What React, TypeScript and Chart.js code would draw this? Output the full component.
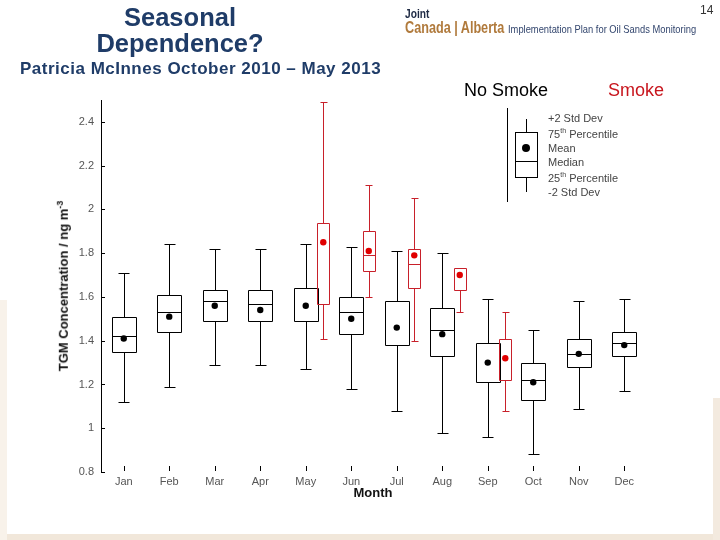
import { useEffect, useRef } from "react";
import { Chart, registerables } from "chart.js";

Chart.register(...registerables);

// months on the x axis
const months = ["Jan", "Feb", "Mar", "Apr", "May", "Jun", "Jul", "Aug", "Sep", "Oct", "Nov", "Dec"];
const yTicks = [0.8, 1, 1.2, 1.4, 1.6, 1.8, 2, 2.2, 2.4];

// No smoke box statistics (TGM, ng m-3)
const noSmokeHigh = [1.71, 1.84, 1.82, 1.82, 1.84, 1.83, 1.81, 1.8, 1.59, 1.45, 1.58, 1.59];
const noSmokeQ3 = [1.51, 1.61, 1.63, 1.63, 1.64, 1.6, 1.58, 1.55, 1.39, 1.3, 1.41, 1.44];
const noSmokeMedian = [1.42, 1.53, 1.58, 1.57, null, 1.53, null, 1.45, null, 1.22, 1.34, 1.39];
const noSmokeMean = [1.41, 1.51, 1.56, 1.54, 1.56, 1.5, 1.46, 1.43, 1.3, 1.21, 1.34, 1.38];
const noSmokeQ1 = [1.35, 1.44, 1.49, 1.49, 1.49, 1.43, 1.38, 1.33, 1.21, 1.13, 1.28, 1.33];
const noSmokeLow = [1.12, 1.19, 1.29, 1.29, 1.27, 1.18, 1.08, 0.98, 0.96, 0.88, 1.09, 1.17];

// Smoke box statistics (only May - Sep)
const smokeHigh = [null, null, null, null, 2.49, 2.11, 2.05, null, 1.53, null, null, null];
const smokeQ3 = [null, null, null, null, 1.94, 1.9, 1.82, 1.73, 1.41, null, null, null];
const smokeMedian = [null, null, null, null, null, 1.79, 1.75, null, null, null, null, null];
const smokeMean = [null, null, null, null, 1.85, 1.81, 1.79, 1.7, 1.32, null, null, null];
const smokeQ1 = [null, null, null, null, 1.57, 1.72, 1.64, 1.63, 1.22, null, null, null];
const smokeLow = [null, null, null, null, 1.41, 1.6, 1.4, 1.53, 1.08, null, null, null];

const SMOKE_OFFSET = 0.385;
const RED_LINE = "#C8202A";
const RED_DOT = "#E00000";

type Stats = {
  high: (number | null)[];
  q3: (number | null)[];
  median: (number | null)[];
  q1: (number | null)[];
  low: (number | null)[];
};

const groups: { stats: Stats; offset: number; width: number; cap: number; color: string }[] = [
  {
    stats: { high: noSmokeHigh, q3: noSmokeQ3, median: noSmokeMedian, q1: noSmokeQ1, low: noSmokeLow },
    offset: 0,
    width: 0.53,
    cap: 0.24,
    color: "#000",
  },
  {
    stats: { high: smokeHigh, q3: smokeQ3, median: smokeMedian, q1: smokeQ1, low: smokeLow },
    offset: SMOKE_OFFSET,
    width: 0.26,
    cap: 0.15,
    color: RED_LINE,
  },
];

const boxPlugin = {
  id: "boxes",
  beforeDatasetsDraw(chart: any) {
    const { ctx, scales } = chart;
    const x = scales.x;
    const y = scales.y;
    const px = (v: number) => Math.round(x.getPixelForValue(v)) + 0.5;
    const py = (v: number) => Math.round(y.getPixelForValue(v)) + 0.5;
    ctx.save();
    ctx.lineWidth = 1;

    groups.forEach((g) => {
      months.forEach((_, i) => {
        const c = i + 1 + g.offset;
        const q3 = g.stats.q3[i];
        const q1 = g.stats.q1[i];
        if (q3 == null || q1 == null) return;
        const l = px(c - g.width / 2);
        const r = px(c + g.width / 2);
        const cx = px(c);
        ctx.strokeStyle = g.color;
        ctx.beginPath();
        ctx.rect(l, py(q3), r - l, py(q1) - py(q3));
        const med = g.stats.median[i];
        if (med != null) {
          ctx.moveTo(l, py(med));
          ctx.lineTo(r, py(med));
        }
        const hi = g.stats.high[i];
        if (hi != null) {
          ctx.moveTo(cx, py(q3));
          ctx.lineTo(cx, py(hi));
          ctx.moveTo(px(c - g.cap / 2), py(hi));
          ctx.lineTo(px(c + g.cap / 2), py(hi));
        }
        const lo = g.stats.low[i];
        if (lo != null) {
          ctx.moveTo(cx, py(q1));
          ctx.lineTo(cx, py(lo));
          ctx.moveTo(px(c - g.cap / 2), py(lo));
          ctx.lineTo(px(c + g.cap / 2), py(lo));
        }
        ctx.stroke();
      });
    });

    // inward tick marks
    ctx.strokeStyle = "#000";
    ctx.beginPath();
    months.forEach((_, i) => {
      const tx = px(i + 1);
      ctx.moveTo(tx, chart.chartArea.bottom - 6);
      ctx.lineTo(tx, chart.chartArea.bottom - 1);
    });
    yTicks.forEach((t) => {
      const ty = py(t);
      ctx.moveTo(chart.chartArea.left, ty);
      ctx.lineTo(chart.chartArea.left + 4, ty);
    });
    ctx.stroke();
    ctx.restore();
  },
};

function BoxChart() {
  const canvasRef = useRef<HTMLCanvasElement>(null);
  const chartRef = useRef<Chart | null>(null);

  useEffect(() => {
    if (!canvasRef.current) return;
    if (chartRef.current) chartRef.current.destroy();

    const tickFont = { family: "Arial, 'Liberation Sans', sans-serif", size: 11 };

    chartRef.current = new Chart(canvasRef.current, {
      type: "scatter",
      data: {
        datasets: [
          {
            label: "No Smoke mean",
            data: noSmokeMean.map((v, i) => ({ x: i + 1, y: v })),
            pointRadius: 3.2,
            pointBackgroundColor: "#000",
            pointBorderWidth: 0,
          },
          {
            label: "Smoke mean",
            data: smokeMean
              .map((v, i) => (v == null ? null : { x: i + 1 + SMOKE_OFFSET, y: v }))
              .filter((p) => p != null) as { x: number; y: number }[],
            pointRadius: 3.2,
            pointBackgroundColor: RED_DOT,
            pointBorderWidth: 0,
          },
        ],
      },
      options: {
        animation: false,
        responsive: false,
        maintainAspectRatio: false,
        layout: { padding: { top: 100, right: 73, bottom: 48, left: 0 } },
        plugins: { legend: { display: false }, tooltip: { enabled: false } },
        scales: {
          x: {
            type: "linear",
            min: 0.5,
            max: 12.5,
            grid: { display: false, drawTicks: false },
            border: { display: false },
            afterBuildTicks: (axis: any) => {
              axis.ticks = months.map((_, i) => ({ value: i + 1 }));
            },
            afterFit: (axis: any) => {
              axis.height = 20;
            },
            ticks: {
              autoSkip: false,
              maxRotation: 0,
              padding: 3,
              color: "#555",
              font: tickFont,
              callback: (v: any) => months[Number(v) - 1] ?? "",
            },
          },
          y: {
            min: 0.8,
            max: 2.5,
            grid: { display: false, drawTicks: false },
            border: { display: true, color: "#000", width: 1 },
            afterBuildTicks: (axis: any) => {
              axis.ticks = yTicks.map((v) => ({ value: v }));
            },
            afterFit: (axis: any) => {
              axis.width = 101;
            },
            ticks: {
              padding: 7,
              color: "#555",
              font: tickFont,
              callback: (v: any) => String(v),
            },
          },
        },
      },
      plugins: [boxPlugin],
    } as any);

    return () => {
      if (chartRef.current) {
        chartRef.current.destroy();
        chartRef.current = null;
      }
    };
  }, []);

  return (
    <div style={{ position: "absolute", left: 0, top: 0, width: 720, height: 540 }}>
      <canvas ref={canvasRef} width={720} height={540} style={{ width: 720, height: 540, display: "block" }} />
    </div>
  );
}

const abs = (s: React.CSSProperties): React.CSSProperties => ({ position: "absolute", whiteSpace: "nowrap", ...s });
const sans = "Arial, 'Liberation Sans', Helvetica, sans-serif";
const supStyle: React.CSSProperties = { fontSize: 7, lineHeight: 0, verticalAlign: "baseline", position: "relative", top: -5 };

function LegendKey() {
  const rows = [
    <>+2 Std Dev</>,
    <>75<span style={supStyle}>th</span> Percentile</>,
    <>Mean</>,
    <>Median</>,
    <>25<span style={supStyle}>th</span> Percentile</>,
    <>-2 Std Dev</>,
  ];
  const rowY = [118, 134, 148, 162, 178, 192];
  return (
    <>
      <div style={abs({ left: 507, top: 108, width: 1, height: 94, background: "#000" })} />
      <div style={abs({ left: 526, top: 119, width: 1, height: 13, background: "#000" })} />
      <div style={abs({ left: 526, top: 177, width: 1, height: 15, background: "#000" })} />
      <div style={abs({ left: 515, top: 132, width: 21, height: 44, border: "1px solid #000" })} />
      <div style={abs({ left: 515, top: 161, width: 22, height: 1, background: "#000" })} />
      <div style={abs({ left: 522, top: 144, width: 8, height: 8, borderRadius: 4, background: "#000" })} />
      {rows.map((r, i) => (
        <div
          key={i}
          style={abs({
            left: 548,
            top: rowY[i] - 7,
            fontFamily: sans,
            fontSize: 11,
            lineHeight: "14px",
            color: "#444",
          })}
        >
          {r}
        </div>
      ))}
    </>
  );
}

export default function App() {
  return (
    <div
      style={{
        position: "fixed",
        left: 0,
        top: 0,
        width: 720,
        height: 540,
        background: "#fff",
        overflow: "hidden",
      }}
    >
      {/* slide frame */}
      <div style={abs({ left: 0, top: 534, width: 720, height: 6, background: "#F1E7DA" })} />
      <div style={abs({ left: 0, top: 300, width: 7, height: 240, background: "#F8F2EA" })} />
      <div style={abs({ left: 713, top: 398, width: 7, height: 142, background: "#F3EADF" })} />

      <BoxChart />

      {/* titles */}
      <div
        style={abs({
          left: 0,
          top: 4,
          width: 360,
          textAlign: "center",
          fontFamily: sans,
          fontWeight: "bold",
          fontSize: 25.5,
          lineHeight: "26px",
          color: "#1F3C68",
          whiteSpace: "normal",
        })}
      >
        Seasonal
        <br />
        Dependence?
      </div>
      <div
        style={abs({
          left: 20,
          top: 59,
          fontFamily: sans,
          fontWeight: "bold",
          fontSize: 17,
          letterSpacing: 0.5,
          lineHeight: "20px",
          color: "#1F3C68",
        })}
      >
        Patricia McInnes October 2010 – May 2013
      </div>

      {/* header logo */}
      <div style={abs({ left: 405, top: 7, fontFamily: sans, fontWeight: "bold", fontSize: 12, color: "#1E2A44", lineHeight: "14px", transform: "scaleX(0.85)", transformOrigin: "left" })}>
        Joint
      </div>
      <div style={abs({ left: 405, top: 19, fontFamily: sans, fontWeight: "bold", fontSize: 16, color: "#B07A3C", lineHeight: "18px", transform: "scaleX(0.79)", transformOrigin: "left" })}>
        Canada | Alberta
      </div>
      <div style={abs({ left: 508, top: 22, fontFamily: sans, fontSize: 11, color: "#33466E", lineHeight: "14px", transform: "scaleX(0.85)", transformOrigin: "left" })}>
        Implementation Plan for Oil Sands Monitoring
      </div>
      <div style={abs({ left: 700, top: 3, fontFamily: sans, fontSize: 12, color: "#333", lineHeight: "14px" })}>14</div>

      {/* series headings */}
      <div style={abs({ left: 464, top: 79, fontFamily: sans, fontSize: 18, color: "#000", lineHeight: "22px" })}>No Smoke</div>
      <div style={abs({ left: 608, top: 79, fontFamily: sans, fontSize: 18, color: "#C8161E", lineHeight: "22px" })}>Smoke</div>

      <LegendKey />

      {/* axis titles */}
      <div
        style={abs({
          left: 63,
          top: 286,
          transform: "translate(-50%, -50%) rotate(-90deg)",
          fontFamily: sans,
          fontWeight: "bold",
          fontSize: 13,
          color: "#111",
        })}
      >
        TGM Concentration / ng m<sup style={{ fontSize: 9 }}>-3</sup>
      </div>
      <div
        style={abs({
          left: 373,
          top: 492,
          transform: "translate(-50%, -50%)",
          fontFamily: sans,
          fontWeight: "bold",
          fontSize: 13,
          color: "#111",
        })}
      >
        Month
      </div>
    </div>
  );
}
